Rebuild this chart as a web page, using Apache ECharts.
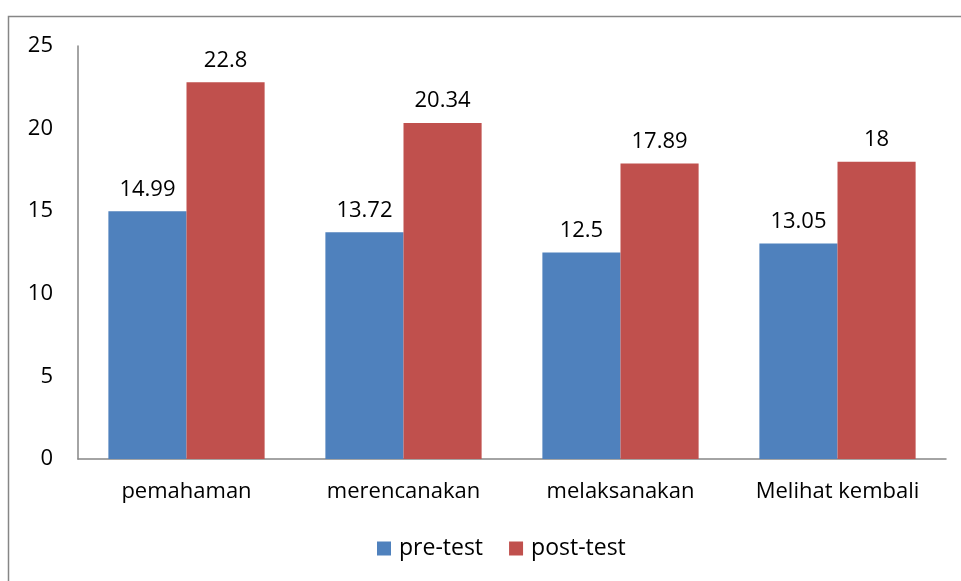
<!DOCTYPE html>
<html><head><meta charset="utf-8">
<script src="https://cdn.jsdelivr.net/npm/echarts@6/dist/echarts.min.js"></script>
<style>html,body{margin:0;padding:0;background:#fff}#c{width:961px;height:581px}</style>
</head><body><div id="c"></div>
<script>
const categories = ['pemahaman', 'merencanakan', 'melaksanakan', 'Melihat kembali'];
const preTest = [14.99, 13.72, 12.5, 13.05];
const postTest = [22.8, 20.34, 17.89, 18];
const seriesNames = ['pre-test', 'post-test'];
const yTicks = {min: 0, max: 25, interval: 5};

const FONT = '"Open Sans", sans-serif';
const FS = 22;
const chart = echarts.init(document.getElementById('c'), null, {renderer: 'canvas'});
const labelCfg = {show: true, position: 'top', distance: 11, color: '#000', fontSize: FS, fontFamily: FONT};
chart.setOption({
  animation: false,
  graphic: [{type: 'rect', shape: {x: 8.5, y: 16.5, width: 1000, height: 1000}, style: {fill: 'none', stroke: '#868686', lineWidth: 1.5}}],
  grid: {left: 78, right: 15, top: 46, bottom: 122, containLabel: false},
  legend: {
    data: seriesNames, bottom: 16, left: 372, itemWidth: 14, itemHeight: 14, itemGap: 26, icon: 'rect',
    textStyle: {fontSize: 23, fontFamily: FONT, color: '#000', padding: [0, 0, 0, 3]}
  },
  xAxis: {
    type: 'category', data: categories,
    axisLine: {lineStyle: {color: '#868686', width: 1.5}},
    axisTick: {show: false},
    axisLabel: {fontSize: FS, fontFamily: FONT, color: '#000', margin: 22}
  },
  yAxis: {
    type: 'value', min: yTicks.min, max: yTicks.max, interval: yTicks.interval,
    axisLine: {show: true, lineStyle: {color: '#868686', width: 1.5}},
    axisTick: {show: false},
    splitLine: {show: false},
    axisLabel: {fontSize: FS, fontFamily: FONT, color: '#000', margin: 25}
  },
  series: [
    {name: seriesNames[0], type: 'bar', data: preTest, barWidth: '36%', barGap: '0%', itemStyle: {color: '#4F81BD'}, label: labelCfg},
    {name: seriesNames[1], type: 'bar', data: postTest, barWidth: '36%', barGap: '0%', itemStyle: {color: '#C0504D'}, label: labelCfg}
  ]
});
</script></body></html>
